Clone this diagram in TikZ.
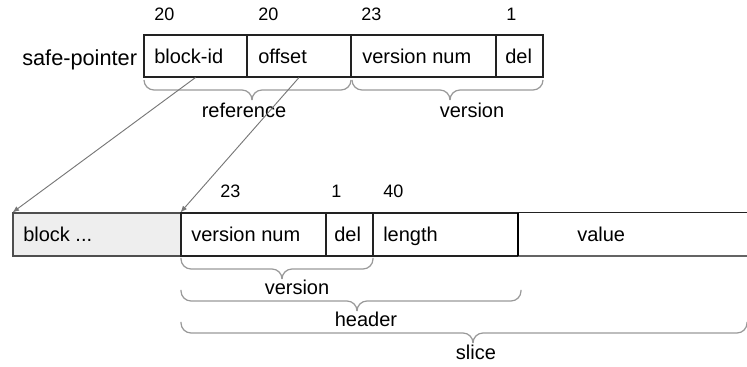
\documentclass[tikz,border=0pt]{standalone}
\usepackage{fontspec}
\setmainfont{Liberation Sans}
\usetikzlibrary{arrows.meta,fit}

\definecolor{boxline}{HTML}{222222}
\definecolor{bracegray}{HTML}{999999}
\definecolor{arrowgray}{HTML}{777777}
\definecolor{blockfill}{HTML}{EEEEEE}

\tikzset{
  field/.style={draw=boxline, line width=0.8pt, inner sep=0pt, fit={#1}},
  lbl/.style={inner sep=0pt, anchor=base west, font=\fontsize{15}{18}\selectfont},
  bits/.style={inner sep=0pt, anchor=base west, font=\fontsize{13.5}{16}\selectfont},
  bracelbl/.style={inner sep=0pt, anchor=base, font=\fontsize{15}{18}\selectfont},
  ptr/.style={draw=arrowgray, line width=0.7pt, -{Latex[length=5pt,width=4pt]}},
  bracestroke/.style={draw=bracegray, line width=0.9pt, rounded corners=7.5pt},
}

% curly brace: left end, right end, cusp x, tip y, flat y, cusp y
\newcommand{\drawcurly}[6]{%
  \draw[bracestroke] (#1,#4) -- (#1,#5) -- (#3,#5) -- (#3,#6);
  \draw[bracestroke] (#2,#4) -- (#2,#5) -- (#3,#5) -- (#3,#6);
}

\begin{document}
\begin{tikzpicture}[x=0.75pt,y=-0.75pt]
  \useasboundingbox (0,0) rectangle (747,367);

  % ---- safe-pointer layout ----
  \node[lbl, font=\fontsize{16.3}{19}\selectfont] (sp) at (22,66) {safe-pointer};
  \node[field={(144,35) (247,77)}] (blockid) {};
  \node[field={(247,35) (351,77)}] (offset) {};
  \node[field={(351,35) (496,77)}] (vnum1) {};
  \node[field={(496,35) (543,77)}] (del1) {};

  \node[lbl] (tblockid) at (154,64) {block-id};
  \node[lbl] (toffset) at (258,64) {offset};
  \node[lbl] (tvnum1) at (362,64) {version num};
  \node[lbl] (tdel1) at (505,64) {del};

  \node[bits] (b1) at (154,21) {20};
  \node[bits] (b2) at (258,21) {20};
  \node[bits] (b3) at (361,21) {23};
  \node[bits] (b4) at (506,21) {1};

  \drawcurly{144}{351}{252}{80}{90}{100}
  \drawcurly{352}{543}{450}{80}{90}{100}
  \node[bracelbl] (lref) at (244,118) {reference};
  \node[bracelbl] (lver1) at (472,118) {version};

  % ---- slice layout ----
  \node[field={(13,213) (181,256)}, fill=blockfill, draw=boxline!80] (blk) {};
  \node[field={(181,213) (326,256)}] (vnum2) {};
  \node[field={(326,213) (373,256)}] (del2) {};
  \node[field={(373,213) (518,256)}] (len) {};
  \node[inner sep=0pt, fit={(518,213) (747,256)}] (val) {};
  \draw[boxline, line width=0.8pt] (val.north west) -- (val.north east);
  \draw[boxline!70, line width=1.2pt] (val.south west) -- (val.south east);
  \draw[black, line width=1.4pt] (val.north west) -- (val.south west);

  \node[lbl] (tblk) at (23,242) {block ...};
  \node[lbl] (tvnum2) at (191,242) {version num};
  \node[lbl] (tdel2) at (334,242) {del};
  \node[lbl] (tlen) at (383,242) {length};
  \node[lbl] (tval) at (577,242) {value};

  \node[bits] (c1) at (220,198) {23};
  \node[bits] (c2) at (331,198) {1};
  \node[bits] (c3) at (383,198) {40};

  \drawcurly{181}{373}{282}{258}{269}{279}
  \drawcurly{181}{521}{357}{290}{301}{311}
  \drawcurly{181}{747}{473}{322}{333}{343}
  \node[bracelbl] (lver2) at (297,295) {version};
  \node[bracelbl] (lhdr) at (366,327) {header};
  \node[bracelbl] (lslice) at (476,359) {slice};

  % ---- pointers into the slice layout ----
  \draw[ptr] (blockid.south) -- (blk.north west);
  \draw[ptr] (offset.south) -- (vnum2.north west);
\end{tikzpicture}
\end{document}
